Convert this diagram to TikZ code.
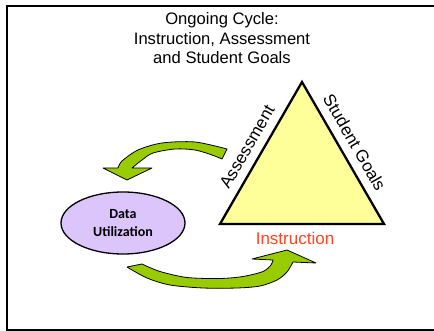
\documentclass[tikz,border=0pt]{standalone}
\usepackage{fontspec}
\setmainfont{Liberation Sans}
\newfontfamily\calibri{Carlito}
\usetikzlibrary{shapes.geometric,positioning}
\definecolor{arrowgreen}{HTML}{99CC00}
\definecolor{paleyellow}{HTML}{FFFF99}
\definecolor{lavender}{HTML}{DCC5FA}
\definecolor{instrred}{HTML}{FF4422}

\begin{document}
\begin{tikzpicture}[x=1pt,y=-1pt,
  greenarrow/.style={fill=arrowgreen,draw=black,line width=0.8pt,line join=round},
  side/.style={font=\fontsize{17}{20}\selectfont,sloped,above=6pt,inner sep=2pt}]
\clip (0,0) rectangle (434,331);
\draw[line width=2pt] (7,6) rectangle (437,330);

\node[align=center,font=\fontsize{16.6}{19.5}\selectfont,anchor=north] (title) at (222,9)
  {Ongoing Cycle:\\Instruction, Assessment\\and Student Goals};

% the cycle triangle
\coordinate (apex) at (302,82);
\coordinate (bl) at (220,224);
\coordinate (br) at (384,224);
\draw[fill=paleyellow,line width=2.3pt,line join=miter] (bl) -- node[side,pos=0.49] (assess) {Assessment}
  (apex) -- node[side,pos=0.48] (goals) {Student Goals} (br) -- cycle;
\node[text=instrred,font=\fontsize{17}{20}\selectfont] (instr) at (295,238) {Instruction};

\node[ellipse,draw,line width=1.3pt,fill=lavender,minimum width=124pt,minimum height=62pt,
  align=center,font=\calibri\bfseries\fontsize{14}{18}\selectfont] (data) at (123,223) {Data\\Utilization};

% upper curved arrow, into the ellipse
\draw[greenarrow] plot[smooth] coordinates{(227,149)(195,142)(162,143)(138,150)(122,161)(118,168)}
  -- (103,168) -- (127,180) -- (152,168)
  -- plot[smooth] coordinates{(132,168)(142,160)(153,153)(175,149)(195,150)(212,155)(222,159)} -- cycle;

% lower curved arrow, out to the triangle
\draw[greenarrow] plot[smooth] coordinates{(127,267)(147,278)(170,285)(203,288)(237,288)(260,286)(277,280)(287,272)(293,262)}
  -- (316,263) -- (287,250) -- (252,259)
  -- plot[smooth] coordinates{(273,260)(271,265)(263,271.5)(243,276.5)(220,278.5)(187,277.5)(160,271.5)(142,264)} -- cycle;
\end{tikzpicture}
\end{document}
